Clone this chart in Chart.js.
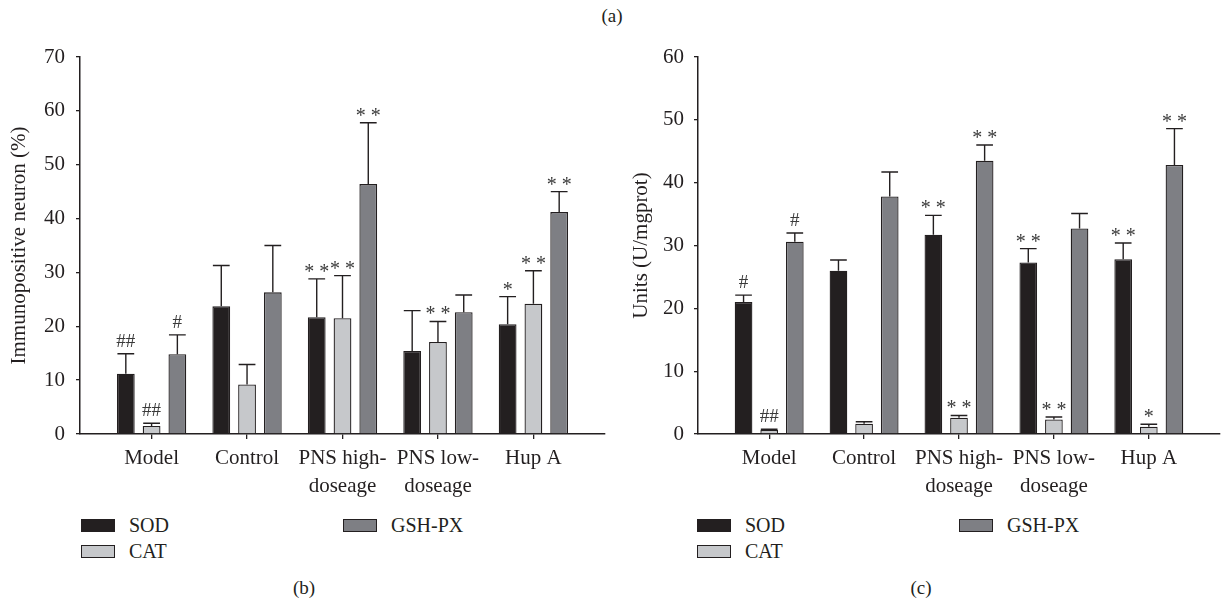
<!DOCTYPE html>
<html>
<head>
<meta charset="utf-8">
<script src="https://cdn.jsdelivr.net/npm/chart.js@4.4.1/dist/chart.umd.min.js"></script>
<style>
  body { margin: 0; background: #fff; font-family: "Liberation Serif", "DejaVu Serif", serif; color: #231f20; }
  #page { position: relative; width: 1224px; height: 602px; overflow: hidden; }
  canvas { position: absolute; top: 0; }
  .cap { position: absolute; font-size: 19px; line-height: 19px; transform: translate(-50%, -50%); white-space: nowrap; }
  .item { position: absolute; font-size: 20px; line-height: 20px; height: 20px; display: flex; align-items: center; white-space: nowrap; }
  .swatch { width: 34px; height: 13px; border: 1px solid #231f20; box-sizing: border-box; margin-right: 14px; }
</style>
</head>
<body>
<div id="page">
  <div class="cap" style="left:612px; top:15px;">(a)</div>
  <canvas id="chartB" width="612" height="500" style="left:0px"></canvas>
  <canvas id="chartC" width="612" height="500" style="left:612px"></canvas>
  <div id="legendB"></div>
  <div id="legendC"></div>
  <div class="cap" style="left:304px; top:587px;">(b)</div>
  <div class="cap" style="left:921px; top:587px;">(c)</div>
</div>
<script>
const groups = [['Model'], ['Control'], ['PNS high-', 'doseage'], ['PNS low-', 'doseage'], ['Hup A']];
const seriesNames = ['SOD', 'CAT', 'GSH-PX'];
const seriesColors = ['#231f20', '#c6c8cb', '#7e7f84'];

// (b) immunopositive neurons (%), mean and upper error
const neuronSOD = [11.2, 23.7, 21.7, 15.4, 20.4];
const neuronSODErr = [3.7, 7.6, 7.1, 7.5, 5.1];
const neuronSODSig = ['##', '', '* *', '', '*'];
const neuronCAT = [1.5, 9.2, 21.5, 17.1, 24.2];
const neuronCATErr = [0.5, 3.7, 7.9, 3.8, 6.1];
const neuronCATSig = ['##', '', '* *', '* *', '* *'];
const neuronGSH = [14.8, 26.3, 46.4, 22.6, 41.2];
const neuronGSHErr = [3.6, 8.7, 11.4, 3.2, 3.8];
const neuronGSHSig = ['#', '', '* *', '', '* *'];

// (c) enzyme activity (U/mgprot)
const unitSOD = [21.0, 26.0, 31.7, 27.3, 27.8];
const unitSODErr = [1.1, 1.7, 3.1, 2.2, 2.6];
const unitSODSig = ['#', '', '* *', '* *', '* *'];
const unitCAT = [0.65, 1.65, 2.6, 2.3, 1.15];
const unitCATErr = [0.1, 0.3, 0.35, 0.4, 0.4];
const unitCATSig = ['##', '', '* *', '* *', '*'];
const unitGSH = [30.6, 37.8, 43.5, 32.7, 42.8];
const unitGSHErr = [1.4, 3.9, 2.5, 2.4, 5.8];
const unitGSHSig = ['#', '', '* *', '', '* *'];

const ink = '#231f20';
const family = '"Liberation Serif", "DejaVu Serif", serif';

// draws the upper error bar and the significance mark of every bar
const errorBars = {
  id: 'errorBars',
  afterDatasetsDraw(chart) {
    const ctx = chart.ctx;
    const y = chart.scales.y;
    ctx.save();
    chart.data.datasets.forEach((ds, di) => {
      chart.getDatasetMeta(di).data.forEach((bar, i) => {
        const top = y.getPixelForValue(ds.data[i].y + ds.errors[i]);
        const half = bar.width / 2 - 0.5;
        ctx.strokeStyle = ink;
        ctx.lineWidth = 1.4;
        ctx.beginPath();
        ctx.moveTo(bar.x, bar.y);
        ctx.lineTo(bar.x, top);
        ctx.moveTo(bar.x - half, top);
        ctx.lineTo(bar.x + half, top);
        ctx.stroke();
        const mark = ds.marks[i];
        if (mark) {
          ctx.font = (mark[0] === '*' ? '20px ' : '19px ') + family;
          ctx.fillStyle = '#3a3a3a';
          ctx.textAlign = 'center';
          ctx.textBaseline = 'alphabetic';
          const m = ctx.measureText(mark);
          ctx.fillText(mark, bar.x, top - 7 - m.actualBoundingBoxDescent);
        }
      });
    });
    ctx.restore();
  }
};

function makeChart(id, series, yMax, yTitle, yWidth, titlePad, tickPad, padRight) {
  return new Chart(document.getElementById(id), {
    type: 'bar',
    data: {
      datasets: series.map((s, k) => ({
        label: seriesNames[k],
        data: s.values.map((v, i) => ({ x: i, y: v })),
        errors: s.errors,
        marks: s.marks,
        backgroundColor: seriesColors[k],
        borderColor: ink,
        borderWidth: 1.3,
        categoryPercentage: 0.81,
        barPercentage: 0.69
      }))
    },
    options: {
      responsive: false,
      animation: false,
      layout: { padding: { top: 57, right: padRight, bottom: 0, left: 0 } },
      plugins: { legend: { display: false }, tooltip: { enabled: false } },
      scales: {
        x: {
          type: 'linear',
          min: -0.75,
          max: 4.75,
          offset: false,
          z: 1,
          afterBuildTicks: s => { s.ticks = groups.map((g, i) => ({ value: i })); },
          afterFit: s => { s.height = 66; },
          ticks: {
            callback: v => groups[v],
            font: { family, size: 21, lineHeight: 1.35 },
            color: ink,
            padding: 5,
            maxRotation: 0,
            autoSkip: false
          },
          grid: { offset: false, drawOnChartArea: false, tickLength: 5, color: ink, lineWidth: 1.3 },
          border: { color: ink, width: 1.5 }
        },
        y: {
          min: 0,
          max: yMax,
          z: 1,
          afterFit: s => { s.width = yWidth; },
          ticks: { stepSize: 10, padding: tickPad, font: { family, size: 21 }, color: ink },
          title: { display: true, text: yTitle, color: ink, font: { family, size: 21 }, padding: { top: titlePad, bottom: 0 } },
          grid: { drawOnChartArea: false, tickLength: 4, color: ink, lineWidth: 1.3 },
          border: { color: ink, width: 1.5 }
        }
      }
    },
    plugins: [errorBars]
  });
}

function buildLegend(chart, el, x1, x2) {
  const spots = [[x1, 515], [x1, 541], [x2, 515]];
  chart.data.datasets.forEach((ds, k) => {
    const item = document.createElement('div');
    item.className = 'item';
    item.style.left = spots[k][0] + 'px';
    item.style.top = spots[k][1] + 'px';
    const sw = document.createElement('span');
    sw.className = 'swatch';
    sw.style.background = ds.backgroundColor;
    item.appendChild(sw);
    item.appendChild(document.createTextNode(ds.label));
    el.appendChild(item);
  });
}

const chartB = makeChart('chartB', [
  { values: neuronSOD, errors: neuronSODErr, marks: neuronSODSig },
  { values: neuronCAT, errors: neuronCATErr, marks: neuronCATSig },
  { values: neuronGSH, errors: neuronGSHErr, marks: neuronGSHSig }
], 70, 'Immunopositive neuron (%)', 80, 7, 11, 7);

const chartC = makeChart('chartC', [
  { values: unitSOD, errors: unitSODErr, marks: unitSODSig },
  { values: unitCAT, errors: unitCATErr, marks: unitCATSig },
  { values: unitGSH, errors: unitGSHErr, marks: unitGSHSig }
], 60, 'Units (U/mgprot)', 86, 17, 10, 4);

buildLegend(chartB, document.getElementById('legendB'), 81, 343);
buildLegend(chartC, document.getElementById('legendC'), 697, 959);
</script>
</body>
</html>
